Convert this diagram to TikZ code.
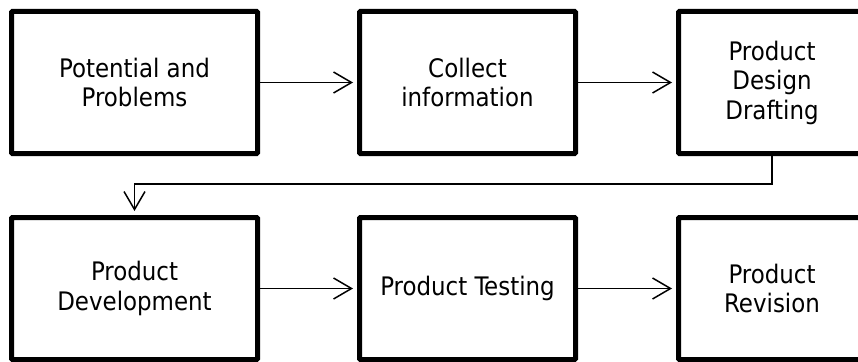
\documentclass[tikz,border=0pt]{standalone}
\usepackage{fontspec}
\setmainfont{DejaVu Sans Condensed}
\usetikzlibrary{arrows.meta}
\tikzset{
  stagebox/.style={draw=black, line width=5pt, rounded corners=1pt,
    minimum height=142pt, align=center, inner sep=0pt,
    font=\fontsize{25.5}{29.5}\selectfont},
  flow/.style={line width=1.5pt, shorten >=4pt,
    -{Straight Barb[length=18pt, width=21pt, line width=1.5pt]}}
}
\begin{document}
\begin{tikzpicture}[x=1pt, y=-1pt]
  \useasboundingbox (0,0) rectangle (858,361);
  \fill[white] (0,0) rectangle (858,361);
  \clip (0,0) rectangle (858,361);

  % upper row
  \node[stagebox, minimum width=246pt] (pot) at (134.5,82.5) {Potential and\\Problems};
  \node[stagebox, minimum width=216pt] (col) at (467.5,82.5) {Collect\\information};
  \node[stagebox, minimum width=187pt] (des) at (772,82.5) {Product\\Design\\Drafting};

  % lower row
  \node[stagebox, minimum width=246pt] (dev) at (134.5,288.5) {Product\\Development};
  \node[stagebox, minimum width=216pt] (tst) at (467.5,288.5) {Product Testing};
  \node[stagebox, minimum width=187pt] (rev) at (772,288.5) {Product\\Revision};

  % connectors
  \draw[flow] (pot) -- (col);
  \draw[flow] (col) -- (des);
  \draw[flow] (des.south) -- ++(0,28) -| (dev.north);
  \draw[flow] (dev) -- (tst);
  \draw[flow] (tst) -- (rev);
\end{tikzpicture}
\end{document}
